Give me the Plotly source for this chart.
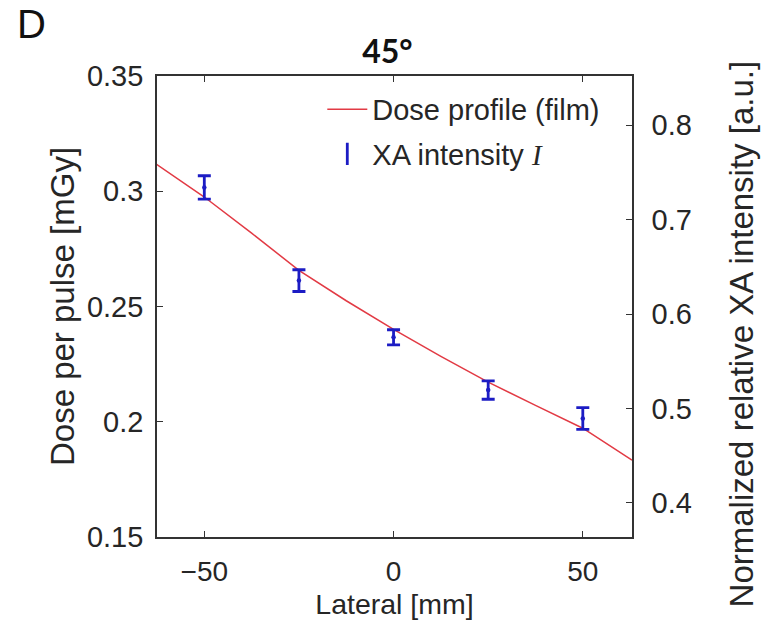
import plotly.graph_objects as go

# ---- data ----
film_x = [-63, -50, -37.5, -25, -12.5, -5, 0, 12.5, 25, 37.5, 50, 63]
film_dose = [0.3121, 0.2975, 0.2818, 0.2657, 0.2525, 0.2449, 0.2401, 0.2284, 0.2172, 0.2071, 0.1972, 0.1833]

xa_x = [-50, -25, 0, 25, 50]
xa_int = [0.734, 0.6354, 0.5754, 0.5195, 0.4895]
xa_err = [0.0124, 0.0115, 0.0080, 0.0097, 0.0115]

x_ticks = [-50, 0, 50]
y_ticks = [0.15, 0.2, 0.25, 0.3, 0.35]
y_ticktext = ["0.15", "0.2", "0.25", "0.3", "0.35"]
y2_ticks = [0.4, 0.5, 0.6, 0.7, 0.8]
y2_ticktext = ["0.4", "0.5", "0.6", "0.7", "0.8"]

RED = "#e23a44"
BLUE = "#1c1cc4"
AX = "#333333"
TXT = "#262626"
FONT = "Liberation Sans, Arial, sans-serif"

fig = go.Figure()
fig.add_trace(go.Scatter(
    x=film_x, y=film_dose, mode="lines", name="Dose profile (film)",
    line=dict(color=RED, width=1.5), yaxis="y", legendgroup="a",
))
fig.add_trace(go.Scatter(
    x=xa_x, y=xa_int, mode="markers", name="XA intensity",
    marker=dict(color=BLUE, size=4.5),
    error_y=dict(type="data", array=xa_err, color=BLUE, thickness=2.8, width=6.5),
    yaxis="y2", showlegend=False,
))
# legend glyph for the XA series
fig.add_trace(go.Scatter(
    x=[None], y=[None], mode="markers", yaxis="y2", legendgroup="b",
    name="XA intensity <i><span style='font-family:Liberation Serif'>I</span></i>",
    marker=dict(symbol="line-ns-open", size=22, color=BLUE, line=dict(color=BLUE, width=2.8)),
))

fig.update_layout(
    width=764, height=635,
    margin=dict(l=157, r=132, t=76, b=98),
    paper_bgcolor="white", plot_bgcolor="white",
    font=dict(family=FONT, size=29, color=TXT),
    title=dict(text="<b>45°</b>", x=0.485, xref="paper", y=0.918, yref="container",
               yanchor="middle", xanchor="center",
               font=dict(family="Lato, Open Sans, sans-serif", size=32, color="#111")),
    xaxis=dict(range=[-62.5, 63], tickvals=x_ticks, ticks="inside", ticklen=6,
               tickcolor=AX, showline=True, linecolor=AX, linewidth=1.6,
               mirror="ticks", showgrid=False, zeroline=False, ticklabelstandoff=9,
               title=dict(text="Lateral [mm]", standoff=8, font=dict(size=28.5)),
               tickfont=dict(size=28)),
    yaxis=dict(range=[0.15, 0.35], tickvals=y_ticks, ticktext=y_ticktext,
               ticks="inside", ticklen=6, tickcolor=AX, showline=True, linecolor=AX,
               linewidth=1.6, showgrid=False, zeroline=False,
               title=dict(text="Dose per pulse [mGy]", standoff=2, font=dict(size=33)),
               ticklabelstandoff=6, tickfont=dict(size=29)),
    yaxis2=dict(range=[0.364, 0.852], tickvals=y2_ticks, ticktext=y2_ticktext,
                overlaying="y", side="right", ticks="inside", ticklen=6, tickcolor=AX,
                showline=True, linecolor=AX, linewidth=1.6, showgrid=False,
                zeroline=False, ticklabelstandoff=12, tickfont=dict(size=29)),
    legend=dict(x=0.348, y=0.983, xanchor="left", yanchor="top", bgcolor="rgba(0,0,0,0)",
                font=dict(size=29), tracegroupgap=4, traceorder="grouped",
                itemwidth=40),
    showlegend=True,
)

fig.add_annotation(text="Normalized relative XA intensity [a.u.]", textangle=-90,
                   xref="paper", yref="paper", x=1.23, y=0.44, xanchor="center",
                   yanchor="middle", showarrow=False, font=dict(size=33, color=TXT))
fig.add_annotation(text="D", xref="paper", yref="paper", x=-0.3, y=1.165,
                   xanchor="left", yanchor="top", showarrow=False,
                   font=dict(size=40, color="#111"))

fig.write_html("out.html")
